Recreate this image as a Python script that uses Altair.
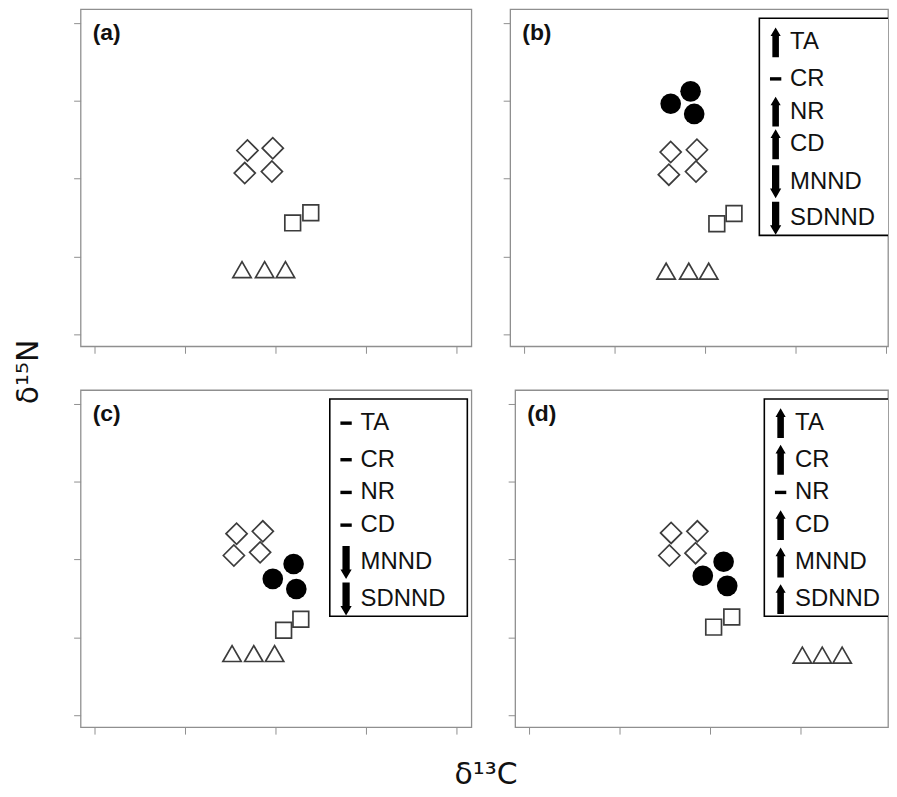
import altair as alt
import pandas as pd

# ---------------- data (axis ticks at 0..4, no labels) -------------
# panel (a)
a_diam_x = [1.69, 1.97, 1.66, 1.96]
a_diam_y = [2.36, 2.39, 2.07, 2.09]
a_sq_x = [2.19, 2.39]
a_sq_y = [1.43, 1.56]
a_tri_x = [1.63, 1.88, 2.11]
a_tri_y = [0.83, 0.83, 0.83]

# panel (b)
b_circ_x = [1.62, 1.84, 1.88]
b_circ_y = [2.96, 3.12, 2.83]
b_diam_x = [1.62, 1.91, 1.60, 1.90]
b_diam_y = [2.34, 2.37, 2.05, 2.09]
b_sq_x = [2.13, 2.32]
b_sq_y = [1.42, 1.55]
b_tri_x = [1.57, 1.82, 2.04]
b_tri_y = [0.81, 0.81, 0.81]

# panel (c)
c_circ_x = [1.97, 2.20, 2.23]
c_circ_y = [1.75, 1.94, 1.62]
c_diam_x = [1.57, 1.86, 1.54, 1.83]
c_diam_y = [2.33, 2.36, 2.05, 2.09]
c_sq_x = [2.09, 2.28]
c_sq_y = [1.09, 1.23]
c_tri_x = [1.52, 1.76, 1.99]
c_tri_y = [0.79, 0.79, 0.79]

# panel (d)
d_circ_x = [1.92, 2.15, 2.19]
d_circ_y = [1.79, 1.97, 1.66]
d_diam_x = [1.57, 1.86, 1.55, 1.84]
d_diam_y = [2.34, 2.36, 2.05, 2.08]
d_sq_x = [2.04, 2.24]
d_sq_y = [1.13, 1.26]
d_tri_x = [3.02, 3.24, 3.46]
d_tri_y = [0.77, 0.77, 0.77]

# legend entries (metric, change direction per panel)
metrics = ["TA", "CR", "NR", "CD", "MNND", "SDNND"]
metric_y = [3.75, 3.28, 2.86, 2.44, 1.96, 1.49]
b_dirs = ["up", "flat", "up", "up", "down", "down"]
c_dirs = ["flat", "flat", "flat", "flat", "down", "down"]
d_dirs = ["up", "up", "flat", "up", "up", "up"]

panel_labels = ["(a)", "(b)", "(c)", "(d)"]
tick_values = [0, 1, 2, 3, 4]

# ---------------- styling ----------------
FONT = "Liberation Sans"
TITLE_FONT = "DejaVu Sans"
FRAME = "#8f8f8f"
MARK_STROKE = "#3c3c3c"
H = 339
Y_DOM = [-0.155, 4.175]
PX_PER_UNIT = 91.0
X_LEFT = -0.154

UP = "M-0.22,1L0.22,1L0.22,-0.42L0.34,-0.42L0,-1L-0.34,-0.42L-0.22,-0.42Z"
DOWN = "M-0.22,-1L0.22,-1L0.22,0.42L0.34,0.42L0,1L-0.34,0.42L-0.22,0.42Z"
FLAT = "M-1,-0.3L1,-0.3L1,0.3L-1,0.3Z"
SYMBOLS = {"up": (UP, 900), "down": (DOWN, 1100), "flat": (FLAT, 130)}


def frame(xs, ys):
    return pd.DataFrame({"x": xs, "y": ys})


def make_panel(label, groups, dirs, width, box_x2):
    xdom = [X_LEFT, X_LEFT + width / PX_PER_UNIT]
    axis = alt.Axis(values=tick_values, labels=False, title=None, ticks=True,
                    tickSize=7, tickColor=FRAME, tickWidth=1, domain=False, grid=False)
    xs = alt.Scale(domain=xdom, nice=False, zero=False)
    ys = alt.Scale(domain=Y_DOM, nice=False, zero=False)

    def X(f):
        return alt.X(f, type="quantitative", scale=xs, axis=axis)

    def Y(f):
        return alt.Y(f, type="quantitative", scale=ys, axis=axis)

    layers = []
    if dirs is not None:
        box = pd.DataFrame({"x1": [2.60], "x2": [box_x2], "y1": [4.06], "y2": [1.27]})
        layers.append(
            alt.Chart(box).mark_rect(fill="white", stroke="black", strokeWidth=1.6, clip=True)
            .encode(x=X("x1"), x2="x2", y=Y("y1"), y2="y2")
        )
        leg = pd.DataFrame({"metric": metrics, "y": metric_y, "dir": dirs,
                            "ax": [2.78] * 6, "tx": [2.94] * 6})
        for key, (path, size) in SYMBOLS.items():
            if key not in dirs:
                continue
            layers.append(
                alt.Chart(leg).transform_filter(alt.datum.dir == key)
                .mark_point(shape=path, size=size, filled=True, color="black", opacity=1,
                            strokeWidth=0)
                .encode(x=X("ax"), y=Y("y"))
            )
        layers.append(
            alt.Chart(leg).mark_text(align="left", baseline="middle", font=FONT,
                                     fontSize=24, color="#111111")
            .encode(x=X("tx"), y=Y("y"), text="metric:N")
        )
    lab = pd.DataFrame({"x": [-0.02], "y": [3.87], "t": [label]})
    layers.append(
        alt.Chart(lab).mark_text(align="left", baseline="middle", font=FONT, fontSize=23,
                                 fontWeight="bold", color="#111111")
        .encode(x=X("x"), y=Y("y"), text="t:N")
    )
    for kind, df in groups:
        if kind == "circle":
            m = alt.Chart(df).mark_point(shape="circle", filled=True, size=430, color="black",
                                         opacity=1)
        elif kind == "diamond":
            m = alt.Chart(df).mark_point(shape="diamond", filled=False, size=450,
                                         stroke=MARK_STROKE, strokeWidth=1.7, opacity=1)
        elif kind == "square":
            m = alt.Chart(df).mark_point(shape="square", filled=False, size=250,
                                         stroke=MARK_STROKE, strokeWidth=1.7, opacity=1)
        else:
            m = alt.Chart(df).mark_point(shape="triangle-up", filled=False, size=340,
                                         stroke=MARK_STROKE, strokeWidth=1.7, opacity=1)
        layers.append(m.encode(x=X("x"), y=Y("y")))
    return alt.layer(*layers).properties(width=width, height=H)


pa = make_panel(panel_labels[0], [
    ("diamond", frame(a_diam_x, a_diam_y)),
    ("square", frame(a_sq_x, a_sq_y)),
    ("triangle", frame(a_tri_x, a_tri_y)),
], None, 393, 4.12)

pb = make_panel(panel_labels[1], [
    ("diamond", frame(b_diam_x, b_diam_y)),
    ("square", frame(b_sq_x, b_sq_y)),
    ("triangle", frame(b_tri_x, b_tri_y)),
    ("circle", frame(b_circ_x, b_circ_y)),
], b_dirs, 380, 4.40)

pc = make_panel(panel_labels[2], [
    ("diamond", frame(c_diam_x, c_diam_y)),
    ("square", frame(c_sq_x, c_sq_y)),
    ("triangle", frame(c_tri_x, c_tri_y)),
    ("circle", frame(c_circ_x, c_circ_y)),
], c_dirs, 393, 4.12)

pd_ = make_panel(panel_labels[3], [
    ("diamond", frame(d_diam_x, d_diam_y)),
    ("square", frame(d_sq_x, d_sq_y)),
    ("triangle", frame(d_tri_x, d_tri_y)),
    ("circle", frame(d_circ_x, d_circ_y)),
], d_dirs, 375, 4.40)

row1 = alt.hconcat(pa, pb, spacing=29)
row2 = alt.hconcat(pc, pd_, spacing=34)
grid = alt.vconcat(row1, row2, spacing=34,
                   title=alt.Title("δ¹⁵N", orient="left", anchor="middle", font=TITLE_FONT,
                                   fontSize=30, fontWeight="normal", color="#111111",
                                   offset=29))
chart = (
    alt.vconcat(grid, title=alt.Title("δ¹³C", orient="bottom", anchor="middle",
                                      font=TITLE_FONT, fontSize=30, fontWeight="normal",
                                      color="#111111", offset=25, dx=35))
    .properties(padding={"left": 5, "top": -2, "right": 0, "bottom": 0})
    .configure_view(stroke=FRAME, strokeWidth=1.3)
    .configure_concat(spacing=0)
)

chart.save("out.html", embed_options={"renderer": "svg", "actions": False})
